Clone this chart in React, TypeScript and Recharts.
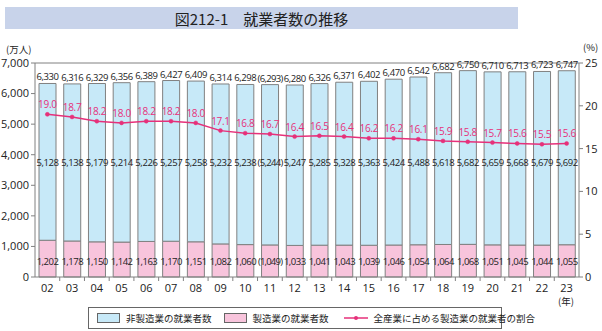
import React from 'react';
import { ComposedChart, Bar, Line, XAxis, YAxis, LabelList, ReferenceLine } from 'recharts';

const years = ['02','03','04','05','06','07','08','09','10','11','12','13','14','15','16','17','18','19','20','21','22','23'];
const nonManufacturing = [5128,5138,5179,5214,5226,5257,5258,5232,5238,5244,5247,5285,5328,5363,5424,5488,5618,5682,5659,5668,5679,5692];
const manufacturing = [1202,1178,1150,1142,1163,1170,1151,1082,1060,1049,1033,1041,1043,1039,1046,1054,1064,1068,1051,1045,1044,1055];
const totals = [6330,6316,6329,6356,6389,6427,6409,6314,6298,6293,6280,6326,6371,6402,6470,6542,6682,6750,6710,6713,6723,6747];
const shares = [19.0,18.7,18.2,18.0,18.2,18.2,18.0,17.1,16.8,16.7,16.4,16.5,16.4,16.2,16.2,16.1,15.9,15.8,15.7,15.6,15.5,15.6];
const estimatedYears = ['11'];
const leftTicks = [0,1000,2000,3000,4000,5000,6000,7000];
const rightTicks = [0,5,10,15,20,25];

const data = years.map((y, i) => ({
  year: y,
  non: nonManufacturing[i],
  mfg: manufacturing[i],
  total: totals[i],
  share: shares[i],
  est: estimatedYears.includes(y),
}));

const W = 602;
const H = 331;
const M = { top: 63, right: 0, left: 0, bottom: 34 };
const LEFT_W = 35;
const RIGHT_W = 23;
const STEP = (W - LEFT_W - RIGHT_W) / years.length;

const NUM_FONT = '"Open Sans", "Noto Sans", sans-serif';
const JP_FONT = '"Noto Sans CJK JP", "Noto Sans", sans-serif';
const BLUE = '#c7e9f8';
const PINK = '#f8c4dc';
const LINE = '#e6307a';
const AXIS = '#808080';

const fmt = (v: number, est: boolean) => {
  const s = v.toLocaleString('en-US');
  return est ? `(${s})` : s;
};

const TotalLabel = (props: any) => {
  const { x, y, width, index } = props;
  const d = data[index];
  return (
    <text x={x + width / 2} y={y - 3} textAnchor="middle" fontSize={9.5} fontFamily={NUM_FONT} fill="#222" letterSpacing={d.est ? -0.7 : -0.4}>
      {fmt(d.total, d.est)}
    </text>
  );
};

const NonLabel = (props: any) => {
  const { x, width, index } = props;
  const d = data[index];
  return (
    <text x={x + width / 2} y={166} textAnchor="middle" fontSize={9.5} fontFamily={NUM_FONT} fill="#222" letterSpacing={d.est ? -0.7 : -0.4}>
      {fmt(d.non, d.est)}
    </text>
  );
};

const MfgLabel = (props: any) => {
  const { x, width, index } = props;
  const d = data[index];
  return (
    <text x={x + width / 2} y={265} textAnchor="middle" fontSize={9.5} fontFamily={NUM_FONT} fill="#222" letterSpacing={d.est ? -0.8 : -0.5}>
      {fmt(d.mfg, d.est)}
    </text>
  );
};

const ShareLabel = (props: any) => {
  const { x, y, index } = props;
  return (
    <text x={x} y={y - 6} textAnchor="middle" fontSize={10} fontFamily={NUM_FONT} fill={LINE} letterSpacing={-0.3}>
      {shares[index].toFixed(1)}
    </text>
  );
};

const YearTick = (props: any) => {
  const { x, y, payload, index } = props;
  const bx = x + STEP / 2;
  return (
    <g>
      {index < years.length - 1 && (
        <line x1={bx} x2={bx} y1={y - 4} y2={y - 8} stroke={AXIS} strokeWidth={1} />
      )}
      <text x={x} y={y + 7} textAnchor="middle" fontSize={11} fontFamily={NUM_FONT} fill="#222">
        {payload.value}
      </text>
    </g>
  );
};

const legendText: React.CSSProperties = { whiteSpace: 'nowrap', flexShrink: 0 };

export default function App() {
  return (
    <div style={{ position: 'absolute', left: 0, top: 0, width: W, height: H, background: '#fff', fontFamily: JP_FONT }}>
      <div style={{ position: 'absolute', left: 5, top: 7, width: 513, height: 22, background: '#c8d3ea', display: 'flex', alignItems: 'center', justifyContent: 'center', fontSize: 15, color: '#222', fontFamily: JP_FONT, whiteSpace: 'nowrap' }}>
        図212-1　就業者数の推移
      </div>
      <div style={{ position: 'absolute', left: 6, top: 43, fontSize: 9.5, lineHeight: '12px', color: '#222', fontFamily: JP_FONT, whiteSpace: 'nowrap' }}>(万人)</div>
      <div style={{ position: 'absolute', left: 583, top: 41, fontSize: 9.5, lineHeight: '12px', color: '#222', fontFamily: JP_FONT, whiteSpace: 'nowrap' }}>(%)</div>
      <div style={{ position: 'absolute', left: 558, top: 296, fontSize: 9.5, lineHeight: '11px', color: '#222', fontFamily: JP_FONT, whiteSpace: 'nowrap' }}>(年)</div>
      <ComposedChart width={W} height={H} data={data} margin={M} barSize={17} barGap={0}>
        <XAxis dataKey="year" xAxisId={0} height={20} axisLine={{ stroke: AXIS }} tickLine={false} tick={<YearTick />} interval={0} />
        <YAxis yAxisId="left" orientation="left" width={LEFT_W} domain={[0, 7000]} ticks={leftTicks}
          tickFormatter={(v: number) => v.toLocaleString('en-US')}
          axisLine={{ stroke: AXIS }} tickLine={{ stroke: AXIS }} tickSize={4}
          tick={{ fontSize: 11, fill: '#222', fontFamily: NUM_FONT }} />
        <YAxis yAxisId="right" orientation="right" width={RIGHT_W} domain={[0, 25]} ticks={rightTicks}
          axisLine={{ stroke: AXIS }} tickLine={{ stroke: AXIS }} tickSize={4}
          tick={{ fontSize: 11, fill: '#222', fontFamily: NUM_FONT, textAnchor: 'start' }} />
        <ReferenceLine yAxisId="left" y={7000} stroke={AXIS} strokeWidth={1} />
        <Bar yAxisId="left" dataKey="mfg" stackId="a" fill={PINK} stroke={AXIS} strokeWidth={1} isAnimationActive={false}>
          <LabelList dataKey="mfg" content={<MfgLabel />} />
        </Bar>
        <Bar yAxisId="left" dataKey="non" stackId="a" fill={BLUE} stroke={AXIS} strokeWidth={1} isAnimationActive={false}>
          <LabelList dataKey="non" content={<NonLabel />} />
          <LabelList dataKey="total" content={<TotalLabel />} />
        </Bar>
        <Line yAxisId="right" dataKey="share" type="linear" stroke={LINE} strokeWidth={1.5}
          dot={{ r: 2, fill: LINE, stroke: LINE, strokeWidth: 0.5 }} isAnimationActive={false}>
          <LabelList dataKey="share" content={<ShareLabel />} />
        </Line>
      </ComposedChart>
      <div style={{ position: 'absolute', left: 88, top: 307, width: 414, height: 22, boxSizing: 'border-box', border: '1px solid #666', display: 'flex', alignItems: 'center', fontSize: 9.5, color: '#222', fontFamily: JP_FONT, whiteSpace: 'nowrap' }}>
        <span style={{ display: 'inline-block', flexShrink: 0, width: 21, height: 8, background: BLUE, border: '1px solid #666', marginLeft: 8, marginRight: 6 }} />
        <span style={legendText}>非製造業の就業者数</span>
        <span style={{ display: 'inline-block', flexShrink: 0, width: 21, height: 8, background: PINK, border: '1px solid #666', marginLeft: 12, marginRight: 6 }} />
        <span style={legendText}>製造業の就業者数</span>
        <svg width={26} height={10} style={{ marginLeft: 14, marginRight: 5, flexShrink: 0 }}>
          <line x1={1} y1={5} x2={25} y2={5} stroke={LINE} strokeWidth={1.5} />
          <circle cx={13} cy={5} r={2} fill={LINE} />
        </svg>
        <span style={legendText}>全産業に占める製造業の就業者の割合</span>
      </div>
    </div>
  );
}
